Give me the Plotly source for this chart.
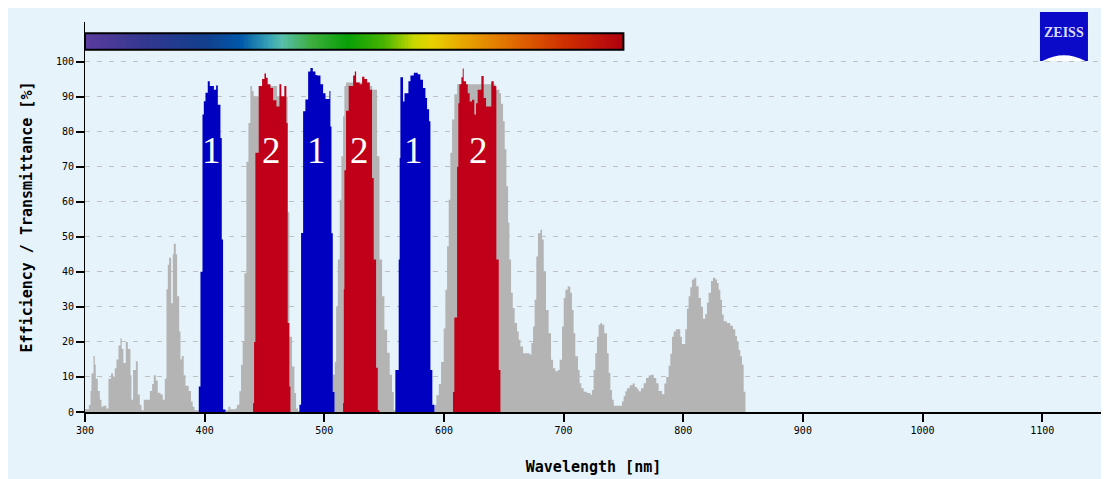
import numpy as np
import plotly.graph_objects as go

# ---------------- data ----------------
gray_wl = [300.0, 303.2, 304.6, 305.4, 307.1, 308.2, 309.0, 310.7, 312.4, 313.8, 315.2, 317.9,
           319.6, 321.8, 323.5, 324.9, 326.3, 328.0, 329.6, 330.7, 332.1, 334.1, 335.8, 338.0,
           338.8, 340.2, 342.5, 344.1, 345.8, 347.2, 349.1, 354.2, 356.1, 357.5, 359.2, 360.8,
           363.1, 365.0, 366.7, 368.1, 369.2, 370.3, 372.0, 373.4, 374.2, 375.9, 377.0, 378.7,
           379.8, 380.9, 382.5, 384.0, 386.7, 388.6, 390.0, 391.5, 417.4, 419.8, 421.5, 425.7,
           427.0, 429.0, 430.4, 431.8, 433.2, 434.9, 436.6, 438.2, 439.6, 441.0, 445.2, 456.3,
           460.5, 466.6, 469.4, 470.8, 473.0, 475.0, 476.4, 478.0, 507.1, 508.8, 509.9, 511.3,
           512.9, 514.3, 515.7, 516.8, 518.2, 538.0, 540.0, 544.1, 546.1, 548.3, 550.2, 552.5,
           554.7, 556.6, 558.0, 592.0, 593.7, 595.7, 597.6, 599.8, 601.2, 602.6, 604.0, 605.4,
           606.8, 608.7, 611.0, 643.0, 646.3, 647.7, 649.4, 650.8, 652.2, 653.6, 654.7, 656.1,
           657.5, 659.1, 661.1, 662.5, 663.9, 666.1, 671.7, 673.1, 674.5, 675.8, 677.2, 678.6,
           680.6, 682.0, 683.4, 685.3, 687.5, 689.5, 691.2, 693.1, 695.1, 696.7, 698.7, 700.1,
           701.5, 703.4, 705.6, 707.0, 708.4, 709.8, 712.0, 713.4, 714.8, 716.8, 719.6, 722.4,
           723.7, 725.1, 726.5, 727.9, 729.3, 730.7, 732.1, 734.0, 736.3, 737.7, 739.1, 740.5,
           741.9, 748.8, 750.2, 751.6, 753.0, 755.2, 757.7, 759.5, 761.3, 762.7, 764.7, 766.9,
           768.9, 771.1, 773.0, 775.3, 777.5, 779.4, 782.2, 784.2, 785.8, 787.8, 789.2, 790.6,
           792.0, 793.9, 797.5, 798.9, 801.7, 803.1, 804.5, 805.9, 807.3, 809.3, 810.9, 812.9,
           814.8, 816.5, 818.4, 819.8, 821.2, 823.2, 824.8, 826.8, 828.2, 829.6, 831.0, 832.4,
           833.8, 836.5, 839.3, 841.6, 843.5, 844.9, 846.3, 847.7, 849.1, 850.5, 852.0]
gray_val = [0.8, 2, 6, 11, 16, 13.5, 9.5, 6, 3.5, 1.5, 1.8, 1.0,
            9.5, 11, 10, 12.5, 15, 19, 21, 18, 14, 20, 18, 10.5,
            3.5, 12, 14.5, 5, 2, 0.5, 3.5, 6, 8, 10.5, 9, 5.5,
            5, 3.5, 9.5, 35, 42, 44, 31, 45, 48, 45, 33, 23,
            15, 16, 10.5, 7.5, 6, 3, 1.5, 0.5, 0.5, 1.5, 0.8, 1.0,
            2.1, 5.9, 13.5, 20.1, 39.6, 71.4, 82.5, 93, 91.6, 90, 93, 93,
            90, 90, 57, 21.5, 13, 5.4, 1, 0.3, 10.6, 14.3, 30.1, 43.5,
            60.6, 73, 84.4, 93, 94, 93, 92, 73, 43.5, 33, 23.5, 16.9,
            10.6, 5.7, 0.5, 2, 4.8, 8, 14.3, 23.8, 34.9, 47.3, 60.6, 74,
            83.5, 90.7, 93.5, 92, 91, 88, 83, 75, 64.4, 54, 43.5, 34,
            29.7, 25.4, 23, 20.6, 18.7, 16.8, 16.4, 19.7, 24.4, 32, 44.4, 51,
            52, 49.2, 40, 29.1, 22.5, 14.9, 12.5, 11.6, 12, 14.9, 24.4, 32.5,
            34.9, 35.8, 34, 29.1, 22.5, 15.9, 12, 8.2, 6.8, 5.8, 5.4, 4.9,
            6.3, 12, 16.8, 21.5, 24.9, 25.4, 24.9, 22.5, 16.8, 11.1, 6.3, 3.5,
            1.8, 3, 4.5, 5.9, 6.8, 7.6, 8.1, 7.1, 6.6, 5.9, 6.8, 8.2,
            9.7, 10.4, 10.6, 9.7, 8.2, 6.0, 5.1, 8.1, 10.0, 13.2, 16.6, 21.5,
            23, 23.6, 21.5, 19.4, 23.6, 29.5, 33.0, 35.6, 37.8, 38.3, 35.9, 32.5,
            30.0, 26.6, 28.0, 31.2, 34.0, 37.4, 38.3, 37.8, 36.8, 34.9, 32.0, 27.8,
            25.9, 25.4, 24.6, 23.6, 21.7, 20.1, 17.7, 15.9, 13.5, 5.8, 0]

blue_wl = [395.1, 396.5, 398.2, 399.3, 400.7, 402.6, 404.3, 407.7, 409.6, 411.0, 413.2, 414.3, 415.4, 417.4,
           479.2, 480.6, 482.3, 484.2, 486.5, 488.4, 490.4, 492.6, 494.0, 496.8, 499.0, 501.0, 504.3, 505.1,
           506.0, 507.1, 508.5,
           559.4, 562.2, 563.0, 563.6, 565.8, 567.0, 570.3, 572.0, 574.8, 578.1, 580.3, 582.5, 584.5, 585.9,
           587.6, 588.7, 590.3, 592.0]
blue_val = [7.3, 40, 84.9, 88.7, 91.1, 94.4, 93, 92, 93.2, 87.7, 78.2, 49.2, 0.7, 0,
            2.1, 51.1, 85.8, 89.2, 97.2, 98.2, 97.2, 96.2, 96, 93.5, 91, 89.3, 91.6, 81.5,
            51, 5.7, 0,
            12, 43.5, 72.5, 95.5, 88.6, 91, 94.4, 96, 96.8, 96.4, 94.8, 92.5, 89.6, 86.4,
            83, 12, 2.1, 0]

red_wl = [440.5, 441.3, 442.4, 445.2, 448.0, 450.0, 451.3, 452.7, 455.0, 457.2, 460.0, 462.5, 464.1,
          466.6, 468.3, 469.4, 470.8, 471.7,
          515.7, 516.3, 516.8, 518.2, 520.4, 524.1, 525.5, 526.6, 529.6, 531.6, 533.5, 535.8, 538.0,
          539.9, 541.3, 543.3, 544.7, 546.1,
          607.6, 608.7, 611.0, 612.0, 612.9, 614.6, 615.7, 616.5, 618.5, 619.9, 621.5, 623.5, 625.4,
          626.8, 628.2, 631.3, 633.2, 635.2, 639.6, 641.6, 643.8, 645.8, 647.2]
red_val = [2.5, 20, 74, 93, 95, 96.6, 95.4, 93.5, 92.5, 89, 87.2, 93.5, 90.1,
           93, 82.5, 25.4, 7.3, 0,
           2.6, 35, 69, 86, 93, 96, 97.2, 94, 93.5, 95.7, 95, 94, 92,
           66.8, 43.5, 12.6, 0.5, 0,
           5.7, 27, 70, 88.1, 93.5, 95.5, 98, 94.4, 93.5, 91, 88.6, 89.1, 84.9,
           88.1, 92, 95.9, 89.6, 87.2, 94.4, 93, 43.5, 12, 0]

label_text = ["1", "2", "1", "2", "1", "2"]
label_wl = [405.7, 455.8, 493.4, 529.6, 574.7, 628.5]
label_y = 74.7

x_ticks = [300, 400, 500, 600, 700, 800, 900, 1000, 1100]
y_ticks = [0, 10, 20, 30, 40, 50, 60, 70, 80, 90, 100]

spectrum_range = [300, 750]
spectrum_y = [103.4, 108.1]
spectrum_colors = [
    [0.000, "#5b3c9e"], [0.111, "#33378f"], [0.222, "#123f8e"], [0.289, "#0058a8"],
    [0.344, "#3aa6b6"], [0.367, "#58beaa"], [0.422, "#3cae3c"], [0.489, "#08a008"],
    [0.556, "#48b400"], [0.611, "#c8d800"], [0.644, "#e8d200"], [0.711, "#e8a000"],
    [0.800, "#e06800"], [0.889, "#d03000"], [1.000, "#b00010"],
]

BG = "#e6f3fb"
GRAY = "#b4b4b4"
BLUE = "#0000c0"
RED = "#c00018"

fig = go.Figure()

fig.add_trace(go.Scatter(x=gray_wl, y=gray_val, mode="lines", line=dict(width=0, shape="hv", color=GRAY),
                         fill="tozeroy", fillcolor=GRAY, hoverinfo="skip", showlegend=False))
fig.add_trace(go.Scatter(x=blue_wl, y=blue_val, mode="lines", line=dict(width=0, shape="hv", color=BLUE),
                         fill="tozeroy", fillcolor=BLUE, hoverinfo="skip", showlegend=False))
fig.add_trace(go.Scatter(x=red_wl, y=red_val, mode="lines", line=dict(width=0, shape="hv", color=RED),
                         fill="tozeroy", fillcolor=RED, hoverinfo="skip", showlegend=False))

# spectrum colour strip
edges = np.linspace(spectrum_range[0], spectrum_range[1], 226)
centers = (edges[:-1] + edges[1:]) / 2
fig.add_trace(go.Heatmap(x=edges, y=spectrum_y, z=[centers], colorscale=spectrum_colors,
                         zmin=spectrum_range[0], zmax=spectrum_range[1], showscale=False,
                         hoverinfo="skip"))

for t, wl in zip(label_text, label_wl):
    fig.add_annotation(x=wl, y=label_y, text=t, showarrow=False,
                       font=dict(family="Liberation Serif", size=37, color="white"))

shapes = [
    # frame around the spectrum strip
    dict(type="rect", xref="x", yref="y", x0=spectrum_range[0], x1=spectrum_range[1],
         y0=spectrum_y[0], y1=spectrum_y[1], line=dict(color="black", width=2)),
    # ZEISS logo
    dict(type="rect", xref="paper", yref="paper", x0=0.939, x1=0.9862, y0=0.9, y1=1.0256,
         fillcolor="#0a0ac8", line=dict(width=0)),
    dict(type="path", xref="paper", yref="paper",
         path="M 0.9415,0.9 Q 0.9626,0.93 0.9837,0.9 Z",
         fillcolor="white", line=dict(width=0)),
]

fig.add_annotation(xref="paper", yref="paper", x=0.9626, y=0.974, text="<b>ZEISS</b>",
                   showarrow=False, xanchor="center", yanchor="middle",
                   font=dict(family="Liberation Serif", size=14, color="#dcdcff"))

fig.update_layout(
    width=1109, height=479,
    margin=dict(l=77, r=15, t=14, b=75),
    paper_bgcolor=BG, plot_bgcolor=BG,
    shapes=shapes,
    showlegend=False,
    xaxis=dict(range=[300, 1150], tickvals=x_ticks, ticktext=[str(v) for v in x_ticks],
               showgrid=False, zeroline=False, showline=True, linecolor="black", linewidth=2,
               ticks="outside", ticklen=8, tickwidth=1.5, tickcolor="black",
               tickfont=dict(family="DejaVu Sans Mono", size=10, color="black"),
               title=dict(text="<b>Wavelength [nm]</b>", standoff=26,
                          font=dict(family="DejaVu Sans Mono", size=15, color="black"))),
    yaxis=dict(range=[0, 111.3], tickvals=y_ticks, ticktext=[str(v) for v in y_ticks],
               showgrid=True, gridcolor="#c0c0c0", gridwidth=1, griddash="5px,7px",
               zeroline=False, showline=True, linecolor="black", linewidth=1, mirror=True,
               ticks="outside", ticklen=8, tickwidth=1.5, tickcolor="black",
               tickfont=dict(family="DejaVu Sans Mono", size=10, color="black"),
               title=dict(text="<b>Efficiency / Transmittance [%]</b>", standoff=19,
                          font=dict(family="DejaVu Sans Mono", size=15, color="black"))),
)

fig.write_html("out.html")
